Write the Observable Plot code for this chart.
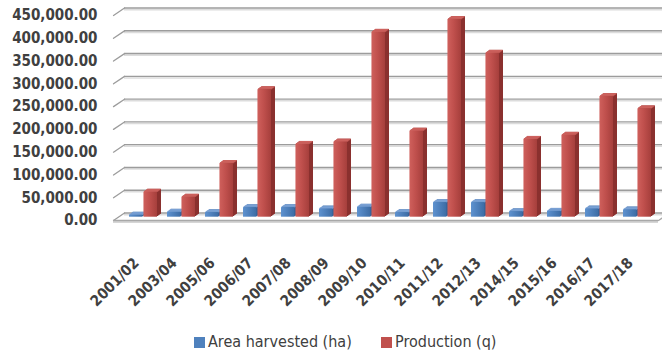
<!DOCTYPE html>
<html>
<head>
<meta charset="utf-8">
<script src="https://cdn.jsdelivr.net/npm/d3@7"></script>
<script src="https://cdn.jsdelivr.net/npm/@observablehq/plot@0.6"></script>
<style>
  html, body { margin: 0; padding: 0; background: #fff; }
  body { width: 662px; height: 356px; position: relative; overflow: hidden;
         font-family: "DejaVu Sans Condensed", "DejaVu Sans", sans-serif; }
  #chart svg { display: block; }
  #legend { position: absolute; left: 0; top: 322px; width: 662px; height: 34px;
            font-size: 16px; color: #404040; }
  #legend .sw { position: absolute; top: 15px; width: 11px; height: 11px; }
  #legend .lb { position: absolute; top: 10px; line-height: 20px; white-space: nowrap; }
</style>
</head>
<body>
<div id="chart"></div>
<div id="legend">
  <span class="sw" style="left:194px;background:#4F81BD"></span>
  <span class="lb" style="left:208px">Area harvested (ha)</span>
  <span class="sw" style="left:381px;background:#C0504D"></span>
  <span class="lb" style="left:395px">Production (q)</span>
</div>
<script>
// Seasons on the x axis
const seasons = ["2001/02", "2003/04", "2005/06", "2006/07", "2007/08", "2008/09", "2009/10",
                 "2010/11", "2011/12", "2012/13", "2014/15", "2015/16", "2016/17", "2017/18"];
// Area harvested (ha)
const areaHarvested = [4500, 11000, 10000, 21000, 21000, 18000, 22000,
                       10000, 32000, 32000, 12000, 13000, 18000, 16000];
// Production (q)
const production = [55000, 44000, 118000, 280000, 160000, 165000, 406000,
                    189000, 434000, 360000, 171000, 180000, 265000, 238000];
// Value axis ticks
const yTicks = [0, 50000, 100000, 150000, 200000, 250000, 300000, 350000, 400000, 450000];

const rows = seasons.map((season, i) => ({season, area: areaHarvested[i], production: production[i]}));

// Pseudo-3D: bars sit a little behind the front plane, the wall further back
const barDx = 4, barDy = -3.3;
const wallDx = 11, wallDy = -7.5;
const steps = [1, 2, 3, 4];          // extrusion depth, px
const grid = "#9c9c9c";

const gradients = () => {
  const defs = d3.create("svg:defs");
  const add = (id, stops) => {
    const lg = defs.append("linearGradient").attr("id", id)
      .attr("x1", "0").attr("x2", "1").attr("y1", "0").attr("y2", "0");
    stops.forEach(([o, c]) => lg.append("stop").attr("offset", o).attr("stop-color", c));
  };
  add("blueFace", [[0, "#5E92CF"], [0.45, "#4F81BD"], [1, "#3D6CA4"]]);
  add("redFace", [[0, "#CF605C"], [0.45, "#C0504D"], [1, "#A63F3C"]]);
  return defs.node();
};

const line = {draw(context, l) { context.moveTo(0, 0); context.lineTo(0, -l); }};

function prism(field, insetLeft, insetRight, face, side, top) {
  const common = {x: "season", y: field, insetLeft, insetRight};
  return [
    steps.map(k => Plot.barY(rows, {...common, fill: side, dx: barDx + k, dy: barDy - 0.7 * k})),
    steps.map(k => Plot.tickY(rows, {...common, stroke: top, strokeWidth: 1.2,
                                     dx: barDx + k - 0.5, dy: barDy - 0.7 * k})),
    Plot.barY(rows, {...common, fill: face, dx: barDx, dy: barDy})
  ];
}

const chart = Plot.plot({
  width: 662,
  height: 322,
  marginLeft: 113,
  marginRight: 4,
  marginTop: 15,
  marginBottom: 102,
  style: {fontFamily: "'DejaVu Sans Condensed', 'DejaVu Sans', sans-serif", background: "#fff"},
  x: {domain: seasons, padding: 0},
  y: {domain: [0, 450000]},
  marks: [
    gradients,
    // back wall gridlines with a soft shadow
    Plot.ruleY(yTicks, {dx: wallDx, dy: wallDy + 1.6, stroke: "#dcdcdc", strokeWidth: 1.6}),
    Plot.ruleY(yTicks, {dx: wallDx, dy: wallDy, stroke: grid, strokeWidth: 1.4}),
    // side wall edges running from the front plane back to the wall
    Plot.vector(yTicks, {y: d => d, frameAnchor: "left", anchor: "start", length: 13.3, rotate: 56,
                         shape: line, stroke: grid, strokeWidth: 1.3}),
    // floor
    Plot.ruleY([0], {dy: 1.6, stroke: "#d6d6d6", strokeWidth: 2}),
    Plot.ruleY([0], {stroke: "#a8a8a8", strokeWidth: 1.5}),
    Plot.vector([0], {y: d => d, frameAnchor: "right", anchor: "start", length: 13.3, rotate: 56,
                      shape: line, stroke: "#a8a8a8", strokeWidth: 1.3}),
    prism("area", 5, 19.45, "url(#blueFace)", "#2F5D93", "#79A0D4"),
    prism("production", 19.45, 5, "url(#redFace)", "#8A302E", "#CD625E"),
    Plot.axisY({ticks: yTicks, tickFormat: d3.format(",.2f"), tickSize: 0, tickPadding: 16,
                fontSize: 15, fontWeight: "bold", fill: "#404040"}),
    Plot.axisX({tickSize: 0, tickRotate: -45, tickPadding: 27, dx: -3, dy: 13,
                fontSize: 15, fontWeight: "bold", fill: "#404040", label: null})
  ]
});

document.getElementById("chart").appendChild(chart);
</script>
</body>
</html>
